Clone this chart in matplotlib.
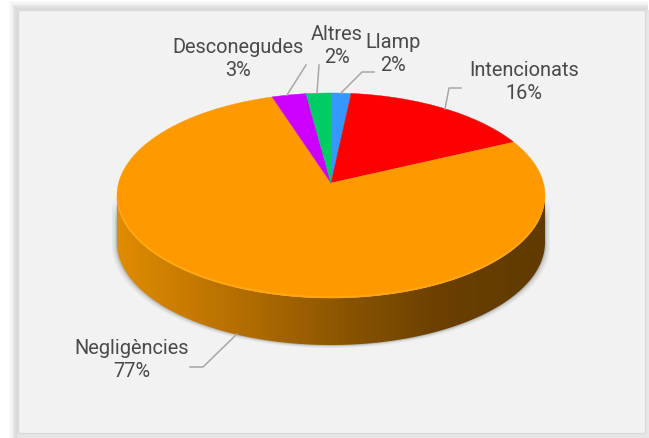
import numpy as np
import matplotlib
matplotlib.use('Agg')
import matplotlib.pyplot as plt
from matplotlib.colors import LinearSegmentedColormap
from matplotlib.patches import Rectangle, Polygon

# clockwise from 12 o'clock
labels = ['Llamp', 'Intencionats', 'Negligències', 'Desconegudes', 'Altres']
values = [1.7, 16.3, 77.0, 2.9, 2.1]
colors = ['#3399FF', '#FF0000', '#FF9900', '#CC00FF', '#00CC66']

plt.rcParams['font.family'] = ['Roboto', 'DejaVu Sans']

W, H = 649, 438
fig = plt.figure(figsize=(W / 100, H / 100), dpi=100, facecolor='white')
ax = fig.add_axes([0, 0, 1, 1])
ax.set_xlim(0, W)
ax.set_ylim(H, 0)
ax.axis('off')

# soft frame shadow + panel
for i, c in enumerate(['#FBFBFB', '#F6F6F6', '#F0F0F0', '#E8E8E8', '#E0E0E0', '#DADADA']):
    d = 8 - i * 1.3
    ax.add_patch(Rectangle((17 - d, 9 - d), 631 + d, 429 + d, fc=c, ec='none', zorder=1))
ax.add_patch(Rectangle((645, 10), 4, 428, fc='#E6E6E6', ec='none', zorder=1.5))
ax.add_patch(Rectangle((17, 433), 632, 5, fc='#E6E6E6', ec='none', zorder=1.5))
ax.add_patch(Rectangle((18, 10), 627, 423, fc='#F2F2F2', ec='#DADADA', lw=1, zorder=2))

# perspective of a tilted disc
cx, cy = 331, 183
a, b, k = 212.4, 101, 0.122
depth = 47


def project(ang):
    u, v = np.sin(ang), np.cos(ang)
    w = 1 + k * v
    return cx + a * u / w, cy - b * v / w


# side wall: lower part of the rim swept down
t = np.linspace(np.pi / 2 + 0.122, 3 * np.pi / 2 - 0.122, 300)
rx, ry = project(t)
side_x = np.r_[rx, rx[::-1]]
side_y = np.r_[ry, ry[::-1] + depth]

# shadow around the wall
for grow, al in [(5, 0.05), (3.5, 0.07), (2, 0.10), (1, 0.14)]:
    ax.add_patch(Polygon(np.c_[cx + (side_x - cx) * (1 + grow / 214), side_y + grow * 0.6],
                         fc='#404040', alpha=al, ec='none', zorder=3))

shade = LinearSegmentedColormap.from_list('side', [
    (0.0, '#E08C00'), (0.31, '#B06C00'), (0.5, '#8F5800'), (0.75, '#6B4000'), (1.0, '#603A00')])
grad = np.linspace(0, 1, 430).reshape(1, -1)
im = ax.imshow(grad, cmap=shade, extent=(117, 545, 360, 190), aspect='auto', zorder=4)
im.set_clip_path(Polygon(np.c_[side_x, side_y], transform=ax.transData))
ax.set_xlim(0, W)
ax.set_ylim(H, 0)

# top face
edges = np.r_[0, np.cumsum(values)] / sum(values) * 2 * np.pi
for i in range(len(values)):
    ang = np.linspace(edges[i], edges[i + 1], 200)
    x, y = project(ang)
    ax.fill(np.r_[cx, x], np.r_[cy, y], color=colors[i], lw=0.3, zorder=5)

# lighter bevel on the front rim of the orange slice
ang = np.linspace(np.pi * 0.62, np.pi * 1.45, 200)
x, y = project(ang)
ax.plot(x, y - 1, color='#FFB020', lw=1.2, alpha=0.6, zorder=6)

# leader lines
leaders = [
    ([341, 362, 374], [93, 72, 72]),
    ([445, 449, 461], [109, 88, 88]),
    ([237, 203, 190], [334, 367, 367]),
    ([287, 306], [95, 65]),
    ([317, 319], [93, 65]),
]
for lx, ly in leaders:
    ax.plot(lx, ly, color='#A6A6A6', lw=1.1, zorder=7)

# data labels
label_pos = [(393, 54), (524, 82), (132, 360), (238, 59), (337, 46)]
for name, val, (px, py) in zip(labels, values, label_pos):
    ax.text(px, py, '%s\n%d%%' % (name, round(val)), ha='center', va='center',
            fontsize=14.4, color='#4A4A4A', linespacing=1.3, zorder=8)

fig.savefig('out.png', dpi=100)
